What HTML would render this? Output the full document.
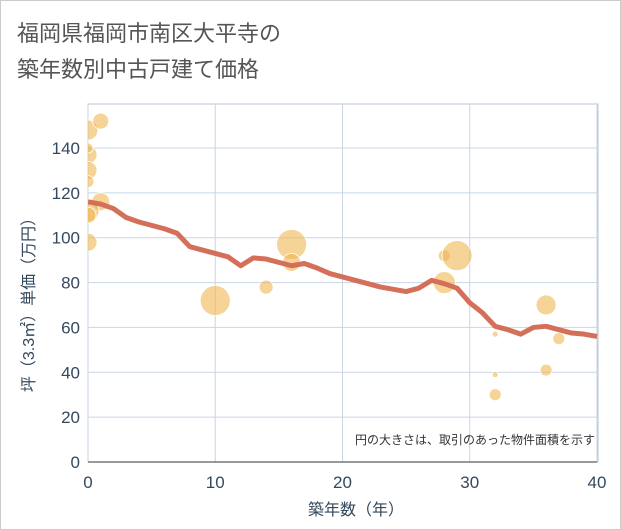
<!DOCTYPE html>
<html><head><meta charset="utf-8"><style>
body{margin:0;background:#fff;}
#wrap{width:619px;height:528px;border:1px solid #ccc;position:relative;font-family:"Liberation Sans","Noto Sans CJK JP",sans-serif;overflow:hidden}
</style></head><body>
<div id="wrap">
<svg id="chart" width="619" height="528">
<defs><clipPath id="plotclip"><rect x="87" y="103" width="510" height="358"/></clipPath></defs>
<text x="16" y="40" font-size="22" fill="#555" font-family="Liberation Sans, Noto Sans CJK JP, sans-serif">福岡県福岡市南区大平寺の</text>
<text x="16" y="76" font-size="22" fill="#555" font-family="Liberation Sans, Noto Sans CJK JP, sans-serif">築年数別中古戸建て価格</text>
<g id="grid"></g><g id="bubbles" clip-path="url(#plotclip)"></g><g id="line" clip-path="url(#plotclip)"></g><g id="axes"></g>
<text x="594" y="443" font-size="12" fill="#333" text-anchor="end" font-family="Liberation Sans, Noto Sans CJK JP, sans-serif">円の大きさは、取引のあった物件面積を示す</text>
<text x="355" y="514" font-size="16" fill="#34495e" text-anchor="middle" font-family="Liberation Sans, Noto Sans CJK JP, sans-serif">築年数（年）</text>
<text transform="translate(33,300) rotate(-90)" font-size="16" fill="#34495e" text-anchor="middle" font-family="Liberation Sans, Noto Sans CJK JP, sans-serif">坪（3.3㎡）単価（万円）</text>
</svg></div>
<script>
const xTicks=[0,10,20,30,40];
const yTicks=[0,20,40,60,80,100,120,140];
const lineYears=[0,1,2,3,4,5,6,7,8,9,10,11,12,13,14,15,16,17,18,19,20,21,22,23,24,25,26,27,28,29,30,31,32,33,34,35,36,37,38,39,40];
const lineValues=[116,115,113,109,107,105.5,104,102,96,94.5,93,91.5,87.5,91,90.5,89,87.5,88.5,86.5,84,82.5,81,79.5,78,77,76,77.5,81,79.5,77.5,71,66.5,60.5,59,57,60,60.5,59,57.5,57,56];
const bubbleYears=[0,1,0,0,0,0,1,0,0,0,10,14,16,16,28,28,29,32,32,32,36,36,37];
const bubbleValues=[148,152,137,130,125,140,116,112,110,98,72,78,97,89,80,92,92,57,39,30,70,41,55];
const bubbleSizes=[10,8,9,9,6,5,9,11,8,9,15,7,15,9,11,6,15,3,3,6,10,6,6];
const X0=87,X1=596,Y0=461,Y1=147;
const xs=v=>X0+(X1-X0)*v/40, ys=v=>Y0-(Y0-Y1)*v/140;
const NS="http://www.w3.org/2000/svg";
function mk(t,p,a){const e=document.createElementNS(NS,t);for(const k in a)e.setAttribute(k,a[k]);p.appendChild(e);return e;}
const grid=document.getElementById('grid'),axes=document.getElementById('axes');
mk('rect',grid,{x:X0,y:103,width:X1-X0+1,height:Y0-103,fill:'none',stroke:'#b8c6d6'});
yTicks.forEach(v=>{const l=mk('line',grid,{x1:X0,x2:X1,y1:ys(v),y2:ys(v),stroke:'#c8d6e6'});


const t=mk('text',axes,{x:79,y:ys(v)+6,'font-size':17,fill:'#34495e','text-anchor':'end'});t.textContent=v;

});
xTicks.forEach(v=>{const l=mk('line',grid,{x1:xs(v),x2:xs(v),y1:103,y2:Y0,stroke:'#c8d6e6'});


const t=mk('text',axes,{x:xs(v),y:487,'font-size':17,fill:'#34495e','text-anchor':'middle'});t.textContent=v;

});
mk('line',axes,{x1:X0,x2:X1,y1:Y0,y2:Y0,stroke:'#333'});
const bg=document.getElementById('bubbles');
bubbleYears.forEach((y,i)=>{const c=mk('circle',bg,{cx:xs(y),cy:ys(bubbleValues[i]),r:bubbleSizes[i],fill:'#f0b550','fill-opacity':0.6,stroke:'#fff','stroke-width':0.8});

});
const p=mk('polyline',document.getElementById('line'),{points:lineYears.map((y,i)=>xs(y)+','+ys(lineValues[i])).join(' '),fill:'none',stroke:'#d4705a','stroke-width':5,'stroke-linejoin':'round'});


</script>
</body></html>
